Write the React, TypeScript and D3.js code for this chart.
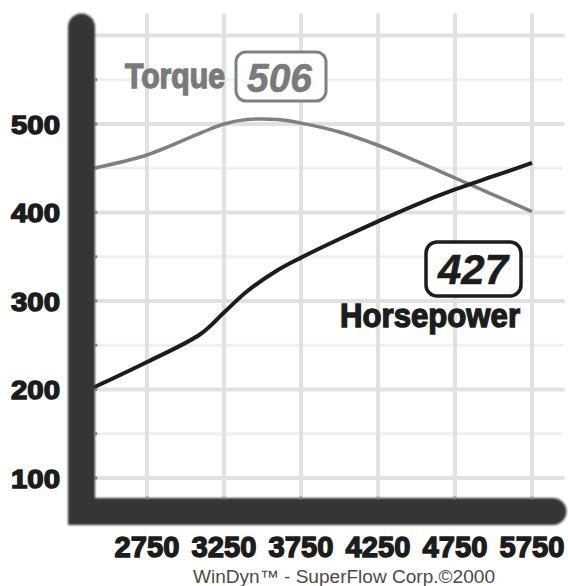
import { scaleLinear, line, curveCatmullRom } from 'd3';

const rpm = [2400, 2750, 3100, 3250, 3400, 3600, 3750, 4000, 4250, 4500, 4750, 5000, 5250];
const torque = [450, 465, 490, 500, 505, 505, 501, 491, 476, 458, 439, 420, 401];
const horsepower = [202, 231, 263, 287, 311, 335, 349, 370, 390, 409, 426, 441, 456];

const xGrid = [2750, 3250, 3750, 4250, 4750, 5250];
const xLabels = ['2750', '3250', '3750', '4250', '4750', '5750'];
const yMajor = [100, 200, 300, 400, 500, 600];
const yMinor = [150, 250, 350, 450, 550];
const yLabels = ['100', '200', '300', '400', '500'];

const peakTorque = '506';
const peakHp = '427';

const W = 568;
const H = 586;

function App() {
  const x = scaleLinear().domain([2750, 5250]).range([147, 532]);
  const y = scaleLinear().domain([100, 500]).range([478, 124]);

  const pts = (vals: number[]) => rpm.map((r, i) => [r, vals[i]] as [number, number]);
  const path = line<[number, number]>()
    .x(d => x(d[0]))
    .y(d => y(d[1]))
    .curve(curveCatmullRom.alpha(0.5));

  const axisLeftX = 81.5;
  const axisBottomY = 511.5;
  const heavy = "'Liberation Sans', Arial, sans-serif";

  return (
    <svg width={W} height={H} style={{ position: 'absolute', left: 0, top: 0, background: '#fff' }}>
      <defs>
        <filter id="soft" x="-10%" y="-10%" width="120%" height="120%">
          <feGaussianBlur stdDeviation="1.1" />
        </filter>
      </defs>

      {/* grid */}
      {yMinor.map(v => (
        <line key={'mn' + v} x1={95} x2={563} y1={y(v)} y2={y(v)} stroke="#efefef" strokeWidth={3} />
      ))}
      {yMajor.map(v => (
        <line key={'mj' + v} x1={95} x2={563} y1={y(v)} y2={y(v)} stroke="#e1e1e1" strokeWidth={4} strokeLinecap="round" />
      ))}
      {xGrid.map(v => (
        <line key={'xg' + v} x1={x(v)} x2={x(v)} y1={15} y2={498} stroke="#e1e1e1" strokeWidth={4} strokeLinecap="round" />
      ))}

      {/* curves */}
      <path d={path(pts(torque)) || ''} fill="none" stroke="#808080" strokeWidth={3.5} />
      <path d={path(pts(horsepower)) || ''} fill="none" stroke="#1c1c1c" strokeWidth={4} />

      {/* axis bars */}
      <path
        d={`M${axisLeftX},27 L${axisLeftX},${axisBottomY} L553,${axisBottomY}`}
        fill="none"
        stroke="#363636"
        strokeWidth={27}
        strokeLinecap="round"
        strokeLinejoin="miter"
        filter="url(#soft)"
      />
      {yMajor.concat(yMinor).filter(v => v < 600).map(v => (
        <circle key={'tk' + v} cx={96} cy={y(v)} r={1.4} fill="#777" />
      ))}
      {xGrid.map(v => (
        <circle key={'tx' + v} cx={x(v)} cy={498} r={1.6} fill="#888" />
      ))}

      {/* y labels */}
      {yLabels.map(t => (
        <text
          key={'yl' + t}
          x={11}
          y={y(+t) + 9.5}
          textLength={49}
          lengthAdjust="spacingAndGlyphs"
          fontFamily={heavy}
          fontWeight="bold"
          fontSize={26}
          fill="#1c1c1c"
          stroke="#1c1c1c"
          strokeWidth={1.4}
        >
          {t}
        </text>
      ))}

      {/* x labels */}
      {xGrid.map((v, i) => (
        <text
          key={'xl' + v}
          x={x(v) - 32.5}
          y={557}
          textLength={65}
          lengthAdjust="spacingAndGlyphs"
          fontFamily={heavy}
          fontWeight="bold"
          fontSize={30}
          fill="#1c1c1c"
          stroke="#1c1c1c"
          strokeWidth={1.4}
        >
          {xLabels[i]}
        </text>
      ))}

      {/* torque label */}
      <text
        x={125}
        y={88}
        textLength={100}
        lengthAdjust="spacingAndGlyphs"
        fontFamily="'Liberation Sans Narrow', 'Liberation Sans', sans-serif"
        fontWeight="bold"
        fontSize={35}
        fill="#7a7a7a"
        stroke="#7a7a7a"
        strokeWidth={1.4}
      >
        Torque
      </text>
      <rect x={236} y={52} width={90} height={49} rx={10} fill="#fff" stroke="#808080" strokeWidth={3} />
      <text
        x={247}
        y={92}
        textLength={65}
        lengthAdjust="spacingAndGlyphs"
        fontFamily={heavy}
        fontWeight="bold"
        fontStyle="italic"
        fontSize={40}
        fill="#7a7a7a"
        stroke="#7a7a7a"
        strokeWidth={0.6}
      >
        {peakTorque}
      </text>

      {/* horsepower label */}
      <rect x={426} y={242} width={95} height={54} rx={11} fill="#fff" stroke="#1c1c1c" strokeWidth={3.5} />
      <text
        x={438}
        y={284}
        textLength={70}
        lengthAdjust="spacingAndGlyphs"
        fontFamily={heavy}
        fontWeight="bold"
        fontStyle="italic"
        fontSize={43}
        fill="#1c1c1c"
        stroke="#1c1c1c"
        strokeWidth={0.6}
      >
        {peakHp}
      </text>
      <text
        x={340}
        y={327}
        textLength={180}
        lengthAdjust="spacingAndGlyphs"
        fontFamily="'Liberation Sans Narrow', 'Liberation Sans', sans-serif"
        fontWeight="bold"
        fontSize={34}
        fill="#1c1c1c"
        stroke="#1c1c1c"
        strokeWidth={1.4}
      >
        Horsepower
      </text>

      {/* footer */}
      <text
        x={193}
        y={583}
        textLength={302}
        lengthAdjust="spacingAndGlyphs"
        fontFamily={heavy}
        fontSize={18}
        fill="#4a4a4a"
      >
        WinDyn™ - SuperFlow Corp.©2000
      </text>
    </svg>
  );
}

export default App;
